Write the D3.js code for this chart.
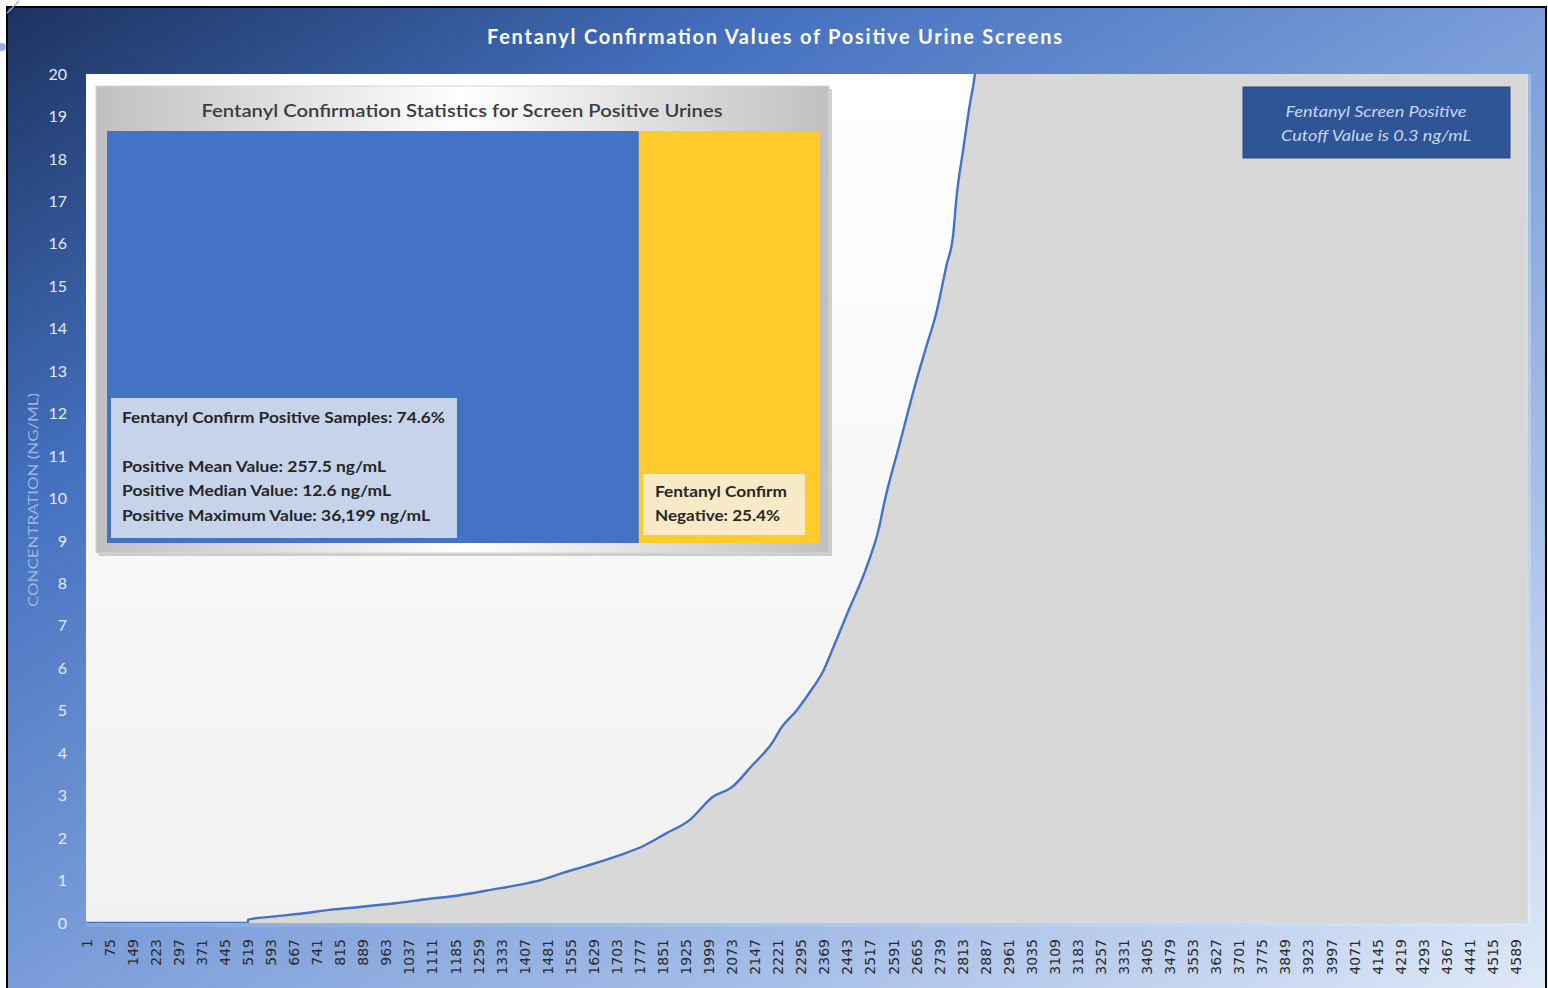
<!DOCTYPE html>
<html>
<head>
<meta charset="utf-8">
<script src="https://cdn.jsdelivr.net/npm/d3@7"></script>
<style>
  html, body { margin: 0; padding: 0; background: #ffffff; overflow: hidden; }
  svg { display: block; }
</style>
</head>
<body>
<svg id="chart" width="1548" height="988"></svg>
<script>
// ---- data -----------------------------------------------------------------
// Number of ranked urine samples on the category axis
const sampleCount = 4629;

// Sorted confirmation concentrations (ng/mL) sampled along the rank axis
const sampleRanks = [1, 519, 521, 600, 700, 783, 857, 1000, 1104, 1177, 1300, 1425, 1460, 1531, 1600,
  1714, 1791, 1860, 1939, 2012, 2074, 2135, 2209, 2228, 2283, 2330, 2366, 2400, 2442, 2507, 2549,
  2560, 2613, 2667, 2699, 2731, 2763, 2784, 2795, 2816, 2838, 2854, 2870, 2950, 3100, 3400, 3800,
  4200, 4500, 4629];
const concentrations = [0, 0, 0.08, 0.15, 0.23, 0.31, 0.36, 0.47, 0.57, 0.63, 0.78, 0.95, 1.01, 1.18, 1.33,
  1.6, 1.82, 2.1, 2.43, 2.97, 3.2, 3.68, 4.31, 4.55, 5.02, 5.5, 5.92, 6.5, 7.25, 8.4, 9.4,
  9.8, 11.3, 12.8, 13.6, 14.4, 15.5, 16.2, 17.1, 18.2, 19.3, 20, 21.4, 28, 42, 80, 180,
  520, 2400, 36199];

// Category axis labels (every 74th sample)
const xTickLabels = [1, 75, 149, 223, 297, 371, 445, 519, 593, 667, 741, 815, 889, 963, 1037, 1111,
  1185, 1259, 1333, 1407, 1481, 1555, 1629, 1703, 1777, 1851, 1925, 1999, 2073, 2147, 2221, 2295,
  2369, 2443, 2517, 2591, 2665, 2739, 2813, 2887, 2961, 3035, 3109, 3183, 3257, 3331, 3405, 3479,
  3553, 3627, 3701, 3775, 3849, 3923, 3997, 4071, 4145, 4219, 4293, 4367, 4441, 4515, 4589];
const yTickLabels = [0, 1, 2, 3, 4, 5, 6, 7, 8, 9, 10, 11, 12, 13, 14, 15, 16, 17, 18, 19, 20];

// Confirmation outcome shares (%) for the inset
const outcomeCategories = ["Confirm Positive", "Confirm Negative"];
const outcomeShares = [74.6, 25.4];
const positiveStatLines = [
  "Fentanyl Confirm Positive Samples: 74.6%",
  "",
  "Positive Mean Value: 257.5 ng/mL",
  "Positive Median Value: 12.6 ng/mL",
  "Positive Maximum Value: 36,199 ng/mL"
];
const negativeStatLines = ["Fentanyl Confirm", "Negative: 25.4%"];
const cutoffNoteLines = ["Fentanyl Screen Positive", "Cutoff Value is 0.3 ng/mL"];

const chartTitle = "Fentanyl Confirmation Values of Positive Urine Screens";
const insetTitle = "Fentanyl Confirmation Statistics for Screen Positive Urines";
const yAxisTitle = "CONCENTRATION (NG/ML)";

// ---- drawing --------------------------------------------------------------
const svg = d3.select("#chart");
const defs = svg.append("defs");

function linearGradient(id, x1, y1, x2, y2, stops) {
  const g = defs.append("linearGradient").attr("id", id)
    .attr("x1", x1).attr("y1", y1).attr("x2", x2).attr("y2", y2);
  stops.forEach(([o, c]) => g.append("stop").attr("offset", o).attr("stop-color", c));
}
linearGradient("bgGrad", 0, 0, 1, 1, [[0, "#1c335f"], [0.25, "#4470bf"], [0.5, "#7a9dd9"], [0.75, "#a8c0e8"], [1, "#e0e9f7"]]);
linearGradient("plotGrad", 0, 0, 0, 1, [[0, "#ffffff"], [1, "#f1f1f1"]]);
linearGradient("areaGrad", 0, 0, 0, 1, [[0, "#e1e1e1"], [1, "#d8d8d8"]]);
linearGradient("frameGrad", 0, 0, 1, 0, [[0, "#c0c0c0"], [0.5, "#ffffff"], [1, "#c0c0c0"]]);

// Screenshot frame
svg.append("rect").attr("x", 7).attr("y", 7).attr("width", 1539).attr("height", 990)
  .attr("fill", "url(#bgGrad)").attr("stroke", "#000").attr("stroke-width", 2);
svg.append("circle").attr("cx", 2).attr("cy", 47).attr("r", 4).attr("fill", "#9cb2de");
svg.append("line").attr("x1", 7).attr("y1", 13).attr("x2", 19).attr("y2", 1)
  .attr("stroke", "#9cb2de").attr("stroke-width", 1.2);

// Title
svg.append("text").attr("x", 774.5).attr("y", 44).attr("text-anchor", "middle")
  .attr("font-family", "Lato, 'Open Sans', sans-serif").attr("font-weight", "bold")
  .attr("font-size", 20).attr("fill", "#ffffff")
  .attr("textLength", 575).attr("lengthAdjust", "spacing")
  .text(chartTitle);

// Plot area
const plot = { left: 86, right: 1528, top: 74, bottom: 923 };
const x = d3.scaleLinear().domain([0.5, sampleCount + 0.5]).range([plot.left, plot.right]);
const y = d3.scaleLinear().domain([0, 20]).range([plot.bottom, plot.top]);

defs.append("clipPath").attr("id", "plotClip").append("rect")
  .attr("x", plot.left).attr("y", plot.top)
  .attr("width", plot.right - plot.left).attr("height", plot.bottom - plot.top);

// light strip under the plot area
svg.append("rect").attr("x", plot.left).attr("y", plot.bottom)
  .attr("width", plot.right - plot.left).attr("height", 4)
  .attr("fill", "#ffffff").attr("opacity", 0.12);
svg.append("rect").attr("x", plot.left).attr("y", plot.top)
  .attr("width", plot.right - plot.left + 3).attr("height", plot.bottom - plot.top)
  .attr("fill", "#ffffff").attr("opacity", 0.25);
svg.append("rect").attr("x", plot.left).attr("y", plot.top)
  .attr("width", plot.right - plot.left).attr("height", plot.bottom - plot.top)
  .attr("fill", "url(#plotGrad)");

const series = sampleRanks.map((r, i) => ({ rank: r, value: concentrations[i] }));

const plotLayer = svg.append("g").attr("clip-path", "url(#plotClip)");
plotLayer.append("path").datum(series)
  .attr("fill", "url(#areaGrad)")
  .attr("d", d3.area().x(d => x(d.rank)).y0(plot.bottom).y1(d => y(d.value))
    .curve(d3.curveMonotoneX));
plotLayer.append("path").datum(series)
  .attr("fill", "none").attr("stroke", "#4472c4").attr("stroke-width", 2.4)
  .attr("stroke-linejoin", "round")
  .attr("d", d3.line().x(d => x(d.rank)).y(d => y(d.value)).curve(d3.curveMonotoneX));

// Y axis
const yAxis = svg.append("g").attr("transform", `translate(${plot.left - 19},0)`)
  .call(d3.axisLeft(y).tickValues(yTickLabels).tickSize(0).tickPadding(0).tickFormat(d3.format("d")));
yAxis.select(".domain").remove();
yAxis.selectAll("text").attr("font-family", "Lato, 'Open Sans', sans-serif")
  .attr("font-size", 16).attr("fill", "#e4ebf6");

svg.append("text")
  .attr("transform", "translate(38,500) rotate(-90)")
  .attr("text-anchor", "middle")
  .attr("font-family", "Lato, 'Open Sans', sans-serif").attr("font-size", 14)
  .attr("fill", "#9db5e1")
  .attr("textLength", 214).attr("lengthAdjust", "spacingAndGlyphs")
  .text(yAxisTitle);

// X axis (category labels, rotated)
const xAxis = svg.append("g").attr("transform", `translate(0,${plot.bottom + 16})`)
  .call(d3.axisBottom(x).tickValues(xTickLabels).tickSize(0).tickPadding(0).tickFormat(d3.format("d")));
xAxis.select(".domain").remove();
xAxis.selectAll("text")
  .attr("font-family", "'DejaVu Sans', sans-serif").attr("font-size", 14).attr("fill", "#2b2b2b")
  .attr("text-anchor", "end").attr("dy", "0.36em")
  .attr("transform", "rotate(-90)")
  .attr("x", 0).attr("y", 0);

// Inset: confirmation statistics
const inset = { x: 96, y: 86, w: 733, h: 467 };
svg.append("rect").attr("x", inset.x + 3).attr("y", inset.y + 3).attr("width", inset.w).attr("height", inset.h)
  .attr("fill", "#b0b0b0").attr("opacity", 0.6);
svg.append("rect").attr("x", inset.x).attr("y", inset.y).attr("width", inset.w).attr("height", inset.h)
  .attr("fill", "url(#frameGrad)").attr("stroke", "#d6d6d6").attr("stroke-width", 1);
svg.append("text").attr("x", 462).attr("y", 117).attr("text-anchor", "middle")
  .attr("font-family", "Lato, 'Open Sans', sans-serif").attr("font-weight", 600)
  .attr("font-size", 18).attr("fill", "#3d3d3d")
  .attr("textLength", 521).attr("lengthAdjust", "spacingAndGlyphs")
  .text(insetTitle);

const shareX = d3.scaleLinear().domain([0, d3.sum(outcomeShares)]).range([107, 820]);
const shareColor = d3.scaleOrdinal().domain(outcomeCategories).range(["#4472c4", "#ffca2b"]);
const starts = d3.cumsum([0, ...outcomeShares]);
svg.append("g").selectAll("rect").data(outcomeCategories).join("rect")
  .attr("x", (d, i) => shareX(starts[i]))
  .attr("width", (d, i) => shareX(starts[i] + outcomeShares[i]) - shareX(starts[i]))
  .attr("y", 131).attr("height", 412)
  .attr("fill", d => shareColor(d));

// Positive statistics label
svg.append("rect").attr("x", 111).attr("y", 398).attr("width", 346).attr("height", 140).attr("fill", "#c6d3ea");
const posWidths = [323, 0, 264, 269, 308];
const posY = [423, 447, 472, 496, 521];
svg.append("g").selectAll("text").data(positiveStatLines).join("text")
  .filter(d => d !== "")
  .attr("x", 122).attr("y", d => posY[positiveStatLines.indexOf(d)])
  .attr("font-family", "Lato, 'Open Sans', sans-serif").attr("font-weight", "bold")
  .attr("font-size", 15).attr("fill", "#262626")
  .attr("textLength", d => posWidths[positiveStatLines.indexOf(d)]).attr("lengthAdjust", "spacingAndGlyphs")
  .text(d => d);

// Negative statistics label
svg.append("rect").attr("x", 643).attr("y", 474).attr("width", 162).attr("height", 61).attr("fill", "#f8eac6");
const negWidths = [132, 125];
svg.append("g").selectAll("text").data(negativeStatLines).join("text")
  .attr("x", 655).attr("y", (d, i) => 497 + i * 24)
  .attr("font-family", "Lato, 'Open Sans', sans-serif").attr("font-weight", "bold")
  .attr("font-size", 15).attr("fill", "#262626")
  .attr("textLength", (d, i) => negWidths[i]).attr("lengthAdjust", "spacingAndGlyphs")
  .text(d => d);

// Cutoff note
svg.append("rect").attr("x", 1243).attr("y", 87).attr("width", 267).attr("height", 71)
  .attr("fill", "#2f5597").attr("stroke", "#284a86").attr("stroke-width", 1);
const noteWidths = [181, 190];
svg.append("g").selectAll("text").data(cutoffNoteLines).join("text")
  .attr("x", 1376).attr("y", (d, i) => 117 + i * 24).attr("text-anchor", "middle")
  .attr("font-family", "Lato, 'Open Sans', sans-serif").attr("font-style", "italic")
  .attr("font-size", 15).attr("fill", "#c9d6ee")
  .attr("textLength", (d, i) => noteWidths[i]).attr("lengthAdjust", "spacingAndGlyphs")
  .text(d => d);
</script>
</body>
</html>
